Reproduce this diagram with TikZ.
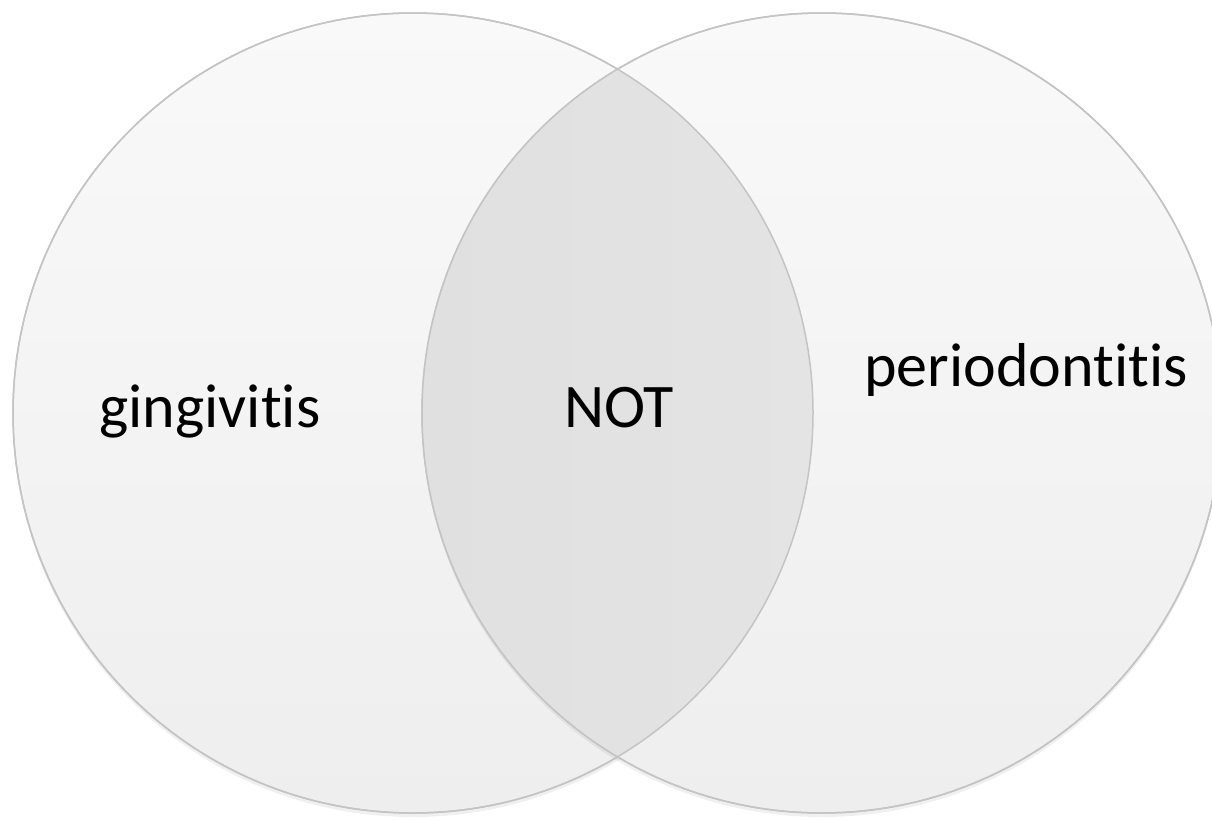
\documentclass[tikz,border=0pt]{standalone}
\usepackage{fontspec}
\setmainfont{Carlito}[Ligatures=NoCommon]
\usepackage{xcolor}
\usetikzlibrary{shadows}

\definecolor{rimgray}{HTML}{C4C4C4}
\definecolor{setTop}{HTML}{F9F9F9}
\definecolor{setBottom}{HTML}{EEEEEE}
\definecolor{lensLeft}{HTML}{E0E0E0}
\definecolor{lensMid}{HTML}{EBEBEB}
\definecolor{lensRight}{HTML}{E8E8E8}

\begin{document}
\begin{tikzpicture}[x=1pt, y=-1pt,
    setcircle/.style={circle, draw=rimgray, line width=1.5pt, minimum size=800pt, inner sep=0pt,
        top color=setTop, bottom color=setBottom,
        drop shadow={opacity=0.12, shadow xshift=0pt, shadow yshift=-4pt}},
    vennText/.style={font=\fontsize{62}{74}\selectfont, anchor=base}]
    \useasboundingbox (0,0) rectangle (1212,819);

    % Sets
    \node[setcircle] (gum) at (413,413) {};
    \node[setcircle] (perio) at (822,413) {};

    % Overlap
    \begin{scope}
        \clip (gum.center) circle (400pt);
        \shade[left color=lensLeft, middle color=lensMid, right color=lensRight] (perio.center) circle (400pt);
    \end{scope}
    \draw[rimgray, line width=1.5pt] (gum.center) circle (400pt);
    \draw[rimgray, line width=1.5pt] (perio.center) circle (400pt);

    % Labels
    \node[vennText] (gingi) at (210,427) {gingivitis};
    \node[vennText] (nott) at (619,427) {NOT};
    \node[vennText] (periot) at (1026,386) {periodontitis};
\end{tikzpicture}
\end{document}
